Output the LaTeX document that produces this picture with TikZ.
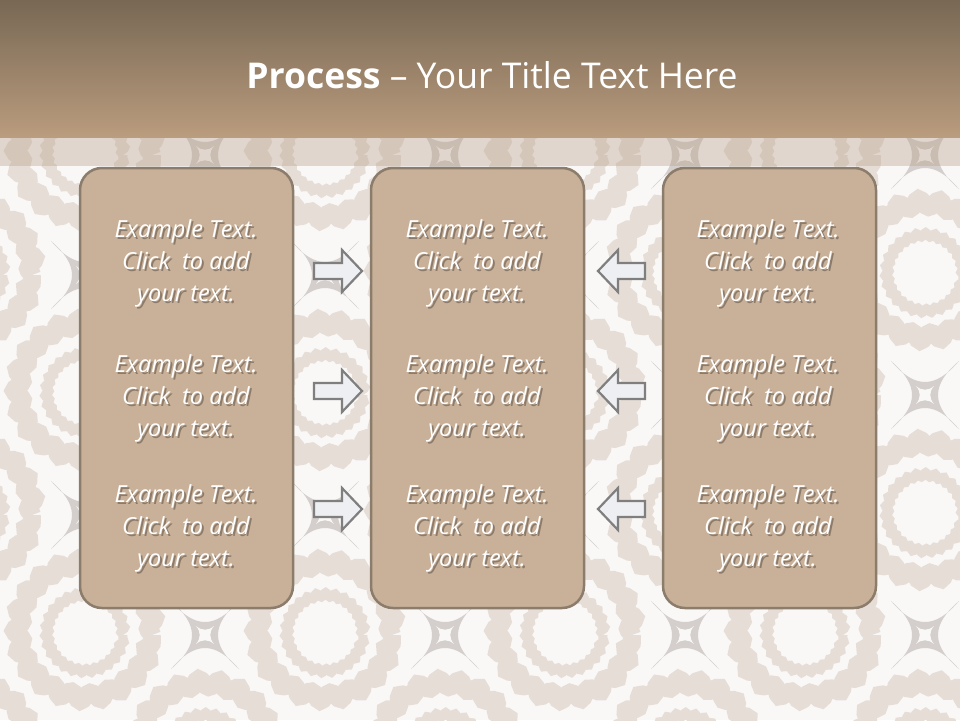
\documentclass[tikz,border=0pt]{standalone}
\usepackage{fontspec}
\setmainfont{Open Sans}
\usetikzlibrary{calc,decorations.pathmorphing}
\definecolor{hdtop}{RGB}{120,104,84}
\definecolor{hdbot}{RGB}{186,156,126}
\definecolor{bggray}{RGB}{212,207,204}
\definecolor{bgwhite}{RGB}{249,248,247}
\definecolor{bgbeige}{RGB}{230,222,214}
\definecolor{boxfill}{RGB}{201,177,153}
\definecolor{boxline}{RGB}{139,124,108}
\definecolor{arrfill}{RGB}{238,239,242}
\definecolor{arrline}{RGB}{127,127,127}
\definecolor{stripc}{RGB}{184,160,138}
\tikzset{
  box/.style={draw=boxline, line width=2.5pt, fill=boxfill, rounded corners=22pt,
    minimum width=213pt, minimum height=440pt, inner sep=0pt},
  txt/.style={align=center, text=white, inner sep=0pt,
    font=\fontsize{23.5}{32}\selectfont\itshape},
  txtshadow/.style={txt, text=black, text opacity=0.3},
  barrow/.style={draw=arrline, line width=2.2pt, fill=arrfill, line join=miter},
  outerband/.style={draw=bgbeige, line width=18pt, decorate,
    decoration={snake, segment length=20pt, amplitude=4pt}},
  innerband/.style={draw=bgbeige, line width=9pt, decorate,
    decoration={snake, segment length=9pt, amplitude=2.2pt}},
}
\newcommand\exblock[2]{%
  \node[txtshadow] at ($(#1)+(2,2.5)$) {Example Text.\\Click\ \ to add\\your text.};
  \node[txt] (#2) at (#1) {Example Text.\\Click\ \ to add\\your text.};
}
\begin{document}
\begin{tikzpicture}[x=1pt,y=-1pt]
\useasboundingbox (0,0) rectangle (960,720);
% background pattern
\begin{scope}
\clip (0,130) rectangle (960,720);
\fill[bgwhite] (0,130) rectangle (960,720);
\foreach \i in {-1,...,8}{
  \foreach \j in {-1,...,5}{
    \pgfmathtruncatemacro\s{\i+\j+10}
    \ifodd\s
      \begin{scope}[shift={(85+120*\i,635-120*\j)}]
      \fill[bggray] (-34,-34) .. controls (-10,-6) and (10,-6) .. (34,-34)
        .. controls (6,-10) and (6,10) .. (34,34)
        .. controls (10,6) and (-10,6) .. (-34,34)
        .. controls (-6,10) and (-6,-10) .. (-34,-34) -- cycle;
      \fill[bgwhite] (-9,-9) .. controls (-3,-4) and (3,-4) .. (9,-9)
        .. controls (4,-3) and (4,3) .. (9,9)
        .. controls (3,4) and (-3,4) .. (-9,9)
        .. controls (-4,3) and (-4,-3) .. (-9,-9) -- cycle;
      \end{scope}
    \else
      \draw[outerband] (85+120*\i,635-120*\j) circle[radius=67pt];
      \draw[innerband] (85+120*\i,635-120*\j) circle[radius=38pt];
    \fi
  }
}
\end{scope}
% translucent strip
\fill[stripc, opacity=0.38] (0,137) rectangle (960,166);
% header
\fill[top color=hdtop, bottom color=hdbot] (0,0) rectangle (960,137);
\node[text=white, font=\fontsize{35.5}{40}\selectfont, inner sep=0pt] (title) at (492,75)
  {\textbf{Process} – Your Title Text Here};
% boxes
\node[box] (L) at (186.5,388) {};
\node[box] (M) at (477.5,388) {};
\node[box] (R) at (769.5,388) {};
% text blocks
\exblock{186,263}{L1}
\exblock{186,398}{L2}
\exblock{186,528}{L3}
\exblock{477,263}{M1}
\exblock{477,398}{M2}
\exblock{477,528}{M3}
\exblock{768,263}{R1}
\exblock{768,398}{R2}
\exblock{768,528}{R3}
% arrows
\foreach \yy in {271,391,509}{
  \draw[barrow, shift={(338,\yy)}] (-24,-8) -- (4,-8) -- (4,-21) -- (24,0) -- (4,21) -- (4,8) -- (-24,8) -- cycle;
  \draw[barrow, shift={(621.5,\yy)}] (23.5,-8) -- (-3.5,-8) -- (-3.5,-21) -- (-23.5,0) -- (-3.5,21) -- (-3.5,8) -- (23.5,8) -- cycle;
}
\end{tikzpicture}
\end{document}
